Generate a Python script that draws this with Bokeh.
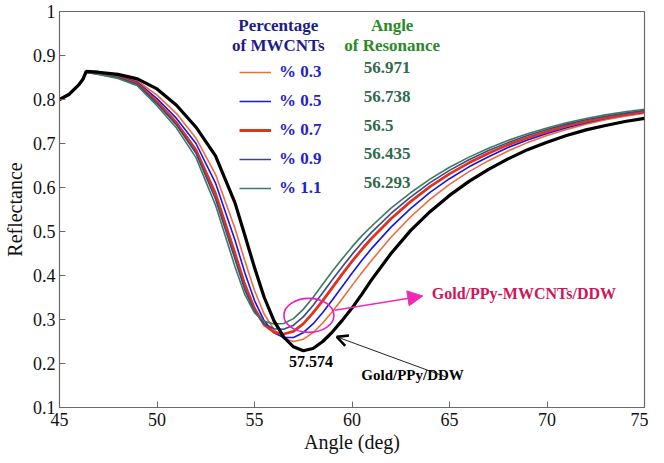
from bokeh.plotting import figure
from bokeh.models import (Range1d, FixedTicker, Legend, LegendItem,
                          Label, Arrow, NormalHead, OpenHead)
from bokeh.embed import file_html
from bokeh.resources import INLINE

# ---------------- data ----------------
ANGLE = [45, 45.5, 46, 46.2, 46.37, 47, 48, 49, 50, 51, 52, 53, 54, 54.5, 55, 55.5,
         56, 56.5, 57, 57.5, 58, 58.5, 59, 59.5, 60, 60.5, 61, 62, 63, 64, 65, 66,
         67, 68, 69, 70, 71, 72, 73, 74, 75]

R_PPY_DDW = [0.800, 0.812, 0.834, 0.846, 0.864, 0.862, 0.857, 0.847, 0.824, 0.787, 0.737,
             0.672, 0.565, 0.492, 0.418, 0.350, 0.297, 0.260, 0.238, 0.229, 0.234, 0.250,
             0.272, 0.298, 0.326, 0.357, 0.390, 0.450, 0.502, 0.545, 0.582, 0.614, 0.641,
             0.665, 0.686, 0.703, 0.718, 0.731, 0.741, 0.750, 0.757]

R_03 = [0.800, 0.812, 0.834, 0.846, 0.863, 0.861, 0.855, 0.842, 0.810, 0.768, 0.712,
        0.630, 0.507, 0.434, 0.366, 0.312, 0.277, 0.257, 0.250, 0.255, 0.270, 0.292,
        0.318, 0.347, 0.377, 0.406, 0.434, 0.487, 0.533, 0.573, 0.607, 0.636, 0.661,
        0.683, 0.702, 0.718, 0.732, 0.744, 0.754, 0.762, 0.769]

R_05 = [0.800, 0.812, 0.834, 0.846, 0.863, 0.860, 0.853, 0.839, 0.802, 0.757, 0.700,
        0.610, 0.480, 0.407, 0.343, 0.297, 0.270, 0.259, 0.259, 0.270, 0.290, 0.316,
        0.345, 0.375, 0.405, 0.434, 0.461, 0.510, 0.552, 0.589, 0.620, 0.647, 0.670,
        0.691, 0.708, 0.723, 0.736, 0.747, 0.757, 0.765, 0.771]

R_07 = [0.800, 0.812, 0.834, 0.846, 0.863, 0.859, 0.851, 0.836, 0.795, 0.747, 0.685,
        0.586, 0.450, 0.380, 0.325, 0.288, 0.271, 0.267, 0.273, 0.290, 0.315, 0.343,
        0.373, 0.403, 0.432, 0.459, 0.484, 0.529, 0.568, 0.602, 0.631, 0.656, 0.678,
        0.697, 0.713, 0.727, 0.740, 0.750, 0.759, 0.766, 0.773]

R_09 = [0.800, 0.812, 0.834, 0.846, 0.862, 0.858, 0.850, 0.834, 0.791, 0.742, 0.678,
        0.574, 0.437, 0.368, 0.318, 0.290, 0.279, 0.278, 0.287, 0.306, 0.332, 0.361,
        0.391, 0.420, 0.448, 0.474, 0.498, 0.541, 0.578, 0.611, 0.639, 0.663, 0.684,
        0.702, 0.718, 0.732, 0.744, 0.754, 0.762, 0.769, 0.775]

R_11 = [0.800, 0.812, 0.834, 0.846, 0.862, 0.857, 0.848, 0.831, 0.786, 0.735, 0.668,
        0.560, 0.420, 0.357, 0.315, 0.296, 0.290, 0.291, 0.302, 0.323, 0.350, 0.380,
        0.410, 0.438, 0.465, 0.490, 0.512, 0.553, 0.588, 0.619, 0.646, 0.669, 0.689,
        0.707, 0.722, 0.735, 0.747, 0.757, 0.765, 0.772, 0.778]

PERCENT_LABELS = ["% 0.3", "% 0.5", "% 0.7", "% 0.9", "% 1.1"]
RESONANCE_ANGLES = ["56.971", "56.738", "56.5", "56.435", "56.293"]
DDW_RESONANCE = "57.574"

X_TICKS = [45, 50, 55, 60, 65, 70, 75]
Y_TICKS = [0.1, 0.2, 0.3, 0.4, 0.5, 0.6, 0.7, 0.8, 0.9, 1.0]

# ---------------- style ----------------
SERIF = "Liberation Serif"
SERIES = [
    (R_03, "#f06a3c", 1.6),
    (R_05, "#1414e6", 1.6),
    (R_07, "#e0321c", 2.8),
    (R_09, "#3b4888", 1.6),
    (R_11, "#3e7a5e", 1.6),
]
AX_COLOR = "#6a6a6a"

p = figure(width=648, height=455, output_backend="svg", toolbar_location=None,
           x_range=Range1d(45, 75), y_range=Range1d(0.1, 1.0),
           min_border_left=53, min_border_right=4, min_border_top=11,
           min_border_bottom=44)
p.background_fill_color = "white"
p.border_fill_color = "white"
p.outline_line_color = AX_COLOR
p.outline_line_width = 1.2
p.xgrid.visible = False
p.ygrid.visible = False

for ax, ticks in ((p.xaxis[0], X_TICKS), (p.yaxis[0], Y_TICKS)):
    ax.ticker = FixedTicker(ticks=ticks)
    ax.minor_tick_line_color = None
    ax.major_tick_in = 6
    ax.major_tick_out = 0
    ax.major_tick_line_color = AX_COLOR
    ax.axis_line_color = AX_COLOR
    ax.major_label_text_font = SERIF
    ax.major_label_text_font_size = "18px"
    ax.major_label_text_color = "#111111"
    ax.axis_label_text_font = SERIF
    ax.axis_label_text_font_size = "20px"
    ax.axis_label_text_font_style = "normal"
    ax.axis_label_text_color = "#111111"

p.yaxis[0].major_label_overrides = {1.0: "1"}
p.xaxis[0].axis_label = "Angle (deg)"
p.yaxis[0].axis_label = "Reflectance"
p.xaxis[0].major_label_standoff = 5
p.xaxis[0].axis_label_standoff = 2
p.yaxis[0].major_label_standoff = 4
p.yaxis[0].axis_label_standoff = 4

# ---------------- curves ----------------
items = []
for (vals, color, lw), lab in zip(SERIES, PERCENT_LABELS):
    r = p.line(ANGLE, vals, line_color=color, line_width=lw)
    items.append(LegendItem(label=lab, renderers=[r]))
p.line(ANGLE, R_PPY_DDW, line_color="black", line_width=3.2)

legend = Legend(items=items, location=(180, 209), orientation="vertical",
                glyph_width=32, glyph_height=20, label_height=20, spacing=9,
                label_standoff=8, padding=0, margin=0,
                label_text_font=SERIF, label_text_font_size="17px",
                label_text_font_style="bold", label_text_color="#2222cc",
                border_line_color=None, background_fill_alpha=0)
p.add_layout(legend, "center")

# ---------------- legend headers and resonance angles ----------------
def lab(x, y, text, color, size="16px", align="center", style="bold"):
    p.add_layout(Label(x=x, y=y, text=text, text_font=SERIF, text_font_size=size,
                       text_font_style=style, text_color=color, text_align=align,
                       text_baseline="middle"))

lab(56.22, 0.9674, "Percentage", "#1c1c8a", size="17px")
lab(56.22, 0.9233, "of MWCNTs", "#1c1c8a", size="17px")
lab(62.06, 0.9674, "Angle", "#2a8a2a", size="17px")
lab(62.06, 0.9233, "of Resonance", "#2a8a2a", size="17px")
row_y = [0.8721, 0.8070, 0.7419, 0.6767, 0.6116]
for yy, txt in zip(row_y, RESONANCE_ANGLES):
    lab(60.6, yy, txt, "#2f6a4c", size="17px", align="left")

# ---------------- annotations ----------------
lab(57.9, 0.2047, DDW_RESONANCE, "black", size="16px")
lab(60.48, 0.1744, "Gold/PPy/DDW", "black", size="15px", align="left")
lab(64.09, 0.3581, "Gold/PPy-MWCNTs/DDW", "#cf1458", size="16px", align="left")

p.ellipse(x=[57.79], y=[0.3093], width=[50], height=[34], width_units="screen",
          height_units="screen", fill_color=None, line_color="#e81ec0", line_width=1.6)

p.add_layout(Arrow(x_start=59.11, y_start=0.3209, x_end=63.63, y_end=0.3535,
                   line_color="#f02ab4", line_width=1.4,
                   end=NormalHead(size=15, fill_color="#f02ab4", line_color="#f02ab4")))
p.add_layout(Arrow(x_start=64.8, y_start=0.1698, x_end=59.22, y_end=0.2605,
                   line_color="#222222", line_width=1.0,
                   end=OpenHead(size=11, line_color="black", line_width=2.6)))

open("out.html", "w").write(file_html(p, INLINE))
